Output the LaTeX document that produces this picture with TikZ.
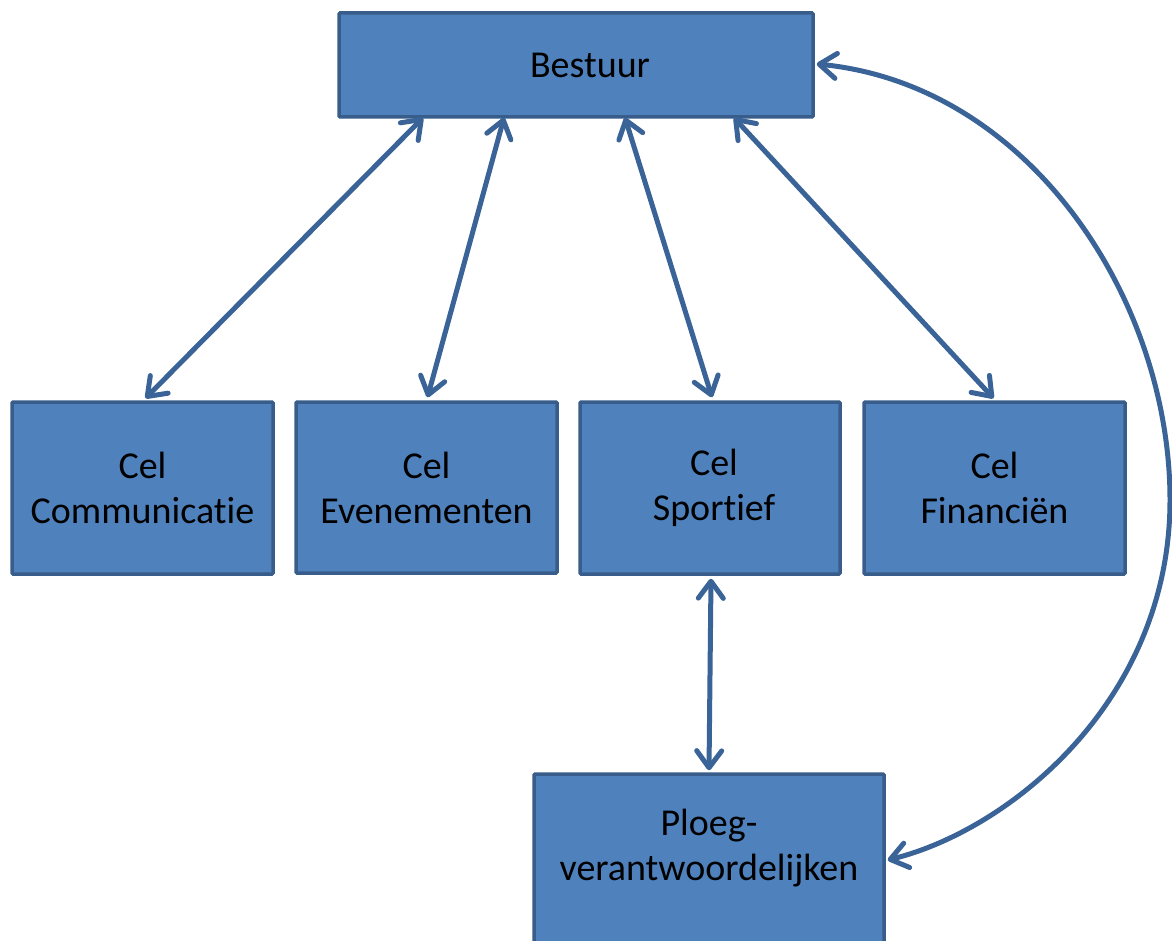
\documentclass[tikz,border=0pt]{standalone}
\usepackage{fontspec}
\setmainfont{Carlito}[Ligatures=NoCommon]
\usetikzlibrary{arrows.meta}
\definecolor{boxfill}{HTML}{4F81BD}
\definecolor{boxline}{HTML}{385D8A}
\definecolor{arrowcol}{HTML}{3A6397}
\begin{document}
\begin{tikzpicture}[x=1pt,y=-1pt,
  box/.style={draw=boxline, fill=boxfill, line width=3.5pt, rounded corners=1pt,
    align=center, font=\fontsize{38}{45}\selectfont, inner sep=0pt},
  txt/.style={align=center, font=\fontsize{38}{45}\selectfont, inner sep=0pt},
  link/.style={draw=arrowcol, line width=5pt, line cap=round, line join=round,
    {Straight Barb[length=17pt,width=25pt,line cap=round,line join=round]}-{Straight Barb[length=17pt,width=25pt,line cap=round,line join=round]}}]
\useasboundingbox (0,0) rectangle (1172,941);
\begin{scope}
\clip (0,0) rectangle (1172,941);
\node[box, minimum width=474pt, minimum height=104pt] (bestuur) at (576,65) {\hspace{28pt}Bestuur};
\node[box, minimum width=261pt, minimum height=172pt] (comm) at (142.5,488) {Cel\\Communicatie};
\node[box, minimum width=261pt, minimum height=171pt] (even) at (426.5,487.5) {Cel\\Evenementen};
\node[box, minimum width=260pt, minimum height=172pt] (sport) at (710,488) {\hspace{8pt}Cel\\\hspace{8pt}Sportief};
\node[box, minimum width=261pt, minimum height=172pt] (fin) at (994.5,488) {Cel\\Financiën};
\node[box, minimum width=350pt, minimum height=172pt] (ploeg) at (709,860) {};
\node[txt] (ploegtxt) at (709,848) {Ploeg-\\verantwoordelijken};
\coordinate (curvemid) at (1170,500);

\draw[link] ([xshift=-153pt,yshift=1pt]bestuur.south) -- ([xshift=3pt,yshift=2pt]comm.north);
\draw[link] ([xshift=-72pt,yshift=1pt]bestuur.south) -- ([xshift=1pt,yshift=3pt]even.north);
\draw[link] ([xshift=49pt,yshift=1pt]bestuur.south) -- ([xshift=2pt,yshift=3pt]sport.north);
\draw[link] ([xshift=158pt,yshift=1pt]bestuur.south) -- ([xshift=-1pt,yshift=2pt]fin.north);
\draw[link] ([xshift=1pt,yshift=-3pt]sport.south) -- ([yshift=2pt]ploeg.north);
\draw[link] ([xshift=2pt,yshift=1pt]bestuur.east) .. controls (1030,85) and (1170,300) .. (curvemid)
  .. controls (1170,700) and (1010,830) .. ([xshift=2pt]ploeg.east);
\end{scope}
\end{tikzpicture}
\end{document}
